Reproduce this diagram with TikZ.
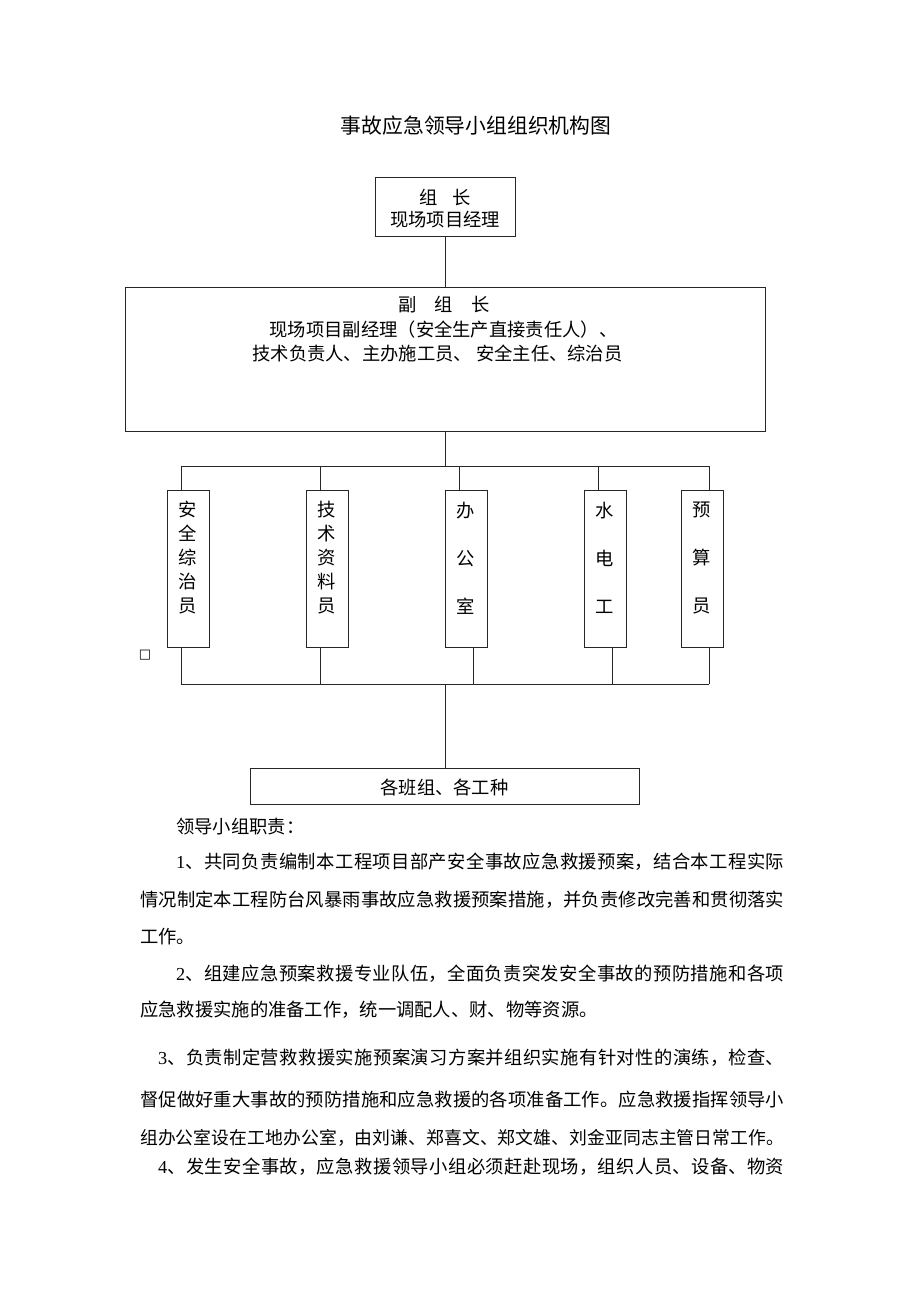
\documentclass[tikz,border=0pt]{standalone}
\usepackage{fontspec}
\setmainfont{Liberation Serif}
\newfontfamily\cjk{Noto Sans CJK SC}
\newfontfamily\symfont{DejaVu Sans}
\newcommand\jl[2]{\parbox{#1}{\XeTeXlinebreaklocale "zh"\XeTeXlinebreakskip=0pt plus 1fil minus 1pt\parfillskip=0pt\noindent #2}}
\begin{document}
\begin{tikzpicture}[x=1pt,y=-1pt,
  box/.style={draw=black!85, line width=1pt, inner sep=0pt},
  conn/.style={draw=black!85, line width=0.8pt},
  txt/.style={font=\cjk\fontsize{18.3}{23.5}\selectfont, inner sep=0pt},
  vtxt/.style={font=\cjk\fontsize{18.3}{24}\selectfont, inner sep=0pt, align=center},
  vtxtw/.style={font=\cjk\fontsize{18.3}{48}\selectfont, inner sep=0pt, align=center},
  para/.style={font=\cjk\fontsize{18.3}{18.3}\selectfont, inner sep=0pt, anchor=west}]
\useasboundingbox[fill=white] (0,0) rectangle (920,1302);

% title
\node[font=\cjk\fontsize{20.8}{20.8}\selectfont, inner sep=0pt] (title) at (476,126) {事故应急领导小组组织机构图};

% boxes
\node[box, minimum width=140pt, minimum height=59pt] (zz) at (445,206.5) {};
\node[txt] (zzt1) at (445,197) {组\hspace{15pt}长};
\node[txt] (zzt2) at (445,220) {现场项目经理};

\node[box, minimum width=640pt, minimum height=144pt] (fz) at (445,359) {};
\node[txt] (fzt1) at (444,305) {副　组　长};
\node[txt] (fzt2) at (443.5,330) {现场项目副经理（安全生产直接责任人）、};
\node[txt] (fzt3) at (437.5,353) {技术负责人、主办施工员、 安全主任、综治员};

\node[box, minimum width=42pt, minimum height=157pt] (b1) at (188,568.5) {};
\node[box, minimum width=42pt, minimum height=157pt] (b2) at (327,568.5) {};
\node[box, minimum width=42pt, minimum height=157pt] (b3) at (466,568.5) {};
\node[box, minimum width=42pt, minimum height=157pt] (b4) at (605,568.5) {};
\node[box, minimum width=42pt, minimum height=157pt] (b5) at (702,568.5) {};
\node[vtxt] (b1t) at (188,558) {安\\全\\综\\治\\员};
\node[vtxt] (b2t) at (327,558) {技\\术\\资\\料\\员};
\node[vtxtw] (b3t) at (466,558) {办\\公\\室};
\node[vtxtw] (b4t) at (605,558) {水\\电\\工};
\node[vtxtw] (b5t) at (702,558) {预\\算\\员};

\node[box, minimum width=389pt, minimum height=36pt] (bz) at (444.5,786) {};
\node[txt] (bzt) at (444.5,787) {各班组、各工种};

% small square glyph
\node[font=\symfont\fontsize{13}{13}\selectfont, inner sep=0pt] (sq) at (145,655) {□};

% connectors
\coordinate (tc) at (445,466);
\coordinate (tl) at (181,466);
\coordinate (tr) at (709,466);
\coordinate (bc) at (445,684);
\coordinate (bl) at (181,684);
\coordinate (br) at (709,684);
\draw[conn] (zz.south) -- (fz.north);
\draw[conn] (fz.south) -- (tc);
\draw[conn] (tl) -- (tr);
\draw[conn] (bl) -- (br);
\draw[conn] (bc) -- (bc |- bz.north);
\coordinate (u1) at (181,466); \coordinate (u2) at (320,466); \coordinate (u3) at (459,466);
\coordinate (u4) at (598,466); \coordinate (u5) at (709,466);
\coordinate (d1) at (181,684); \coordinate (d2) at (320,684); \coordinate (d3) at (473,684);
\coordinate (d4) at (612,684); \coordinate (d5) at (709,684);
\draw[conn] (u1) -- (u1 |- b1.north);
\draw[conn] (u2) -- (u2 |- b2.north);
\draw[conn] (u3) -- (u3 |- b3.north);
\draw[conn] (u4) -- (u4 |- b4.north);
\draw[conn] (u5) -- (u5 |- b5.north);
\draw[conn] (d1) -- (d1 |- b1.south);
\draw[conn] (d2) -- (d2 |- b2.south);
\draw[conn] (d3) -- (d3 |- b3.south);
\draw[conn] (d4) -- (d4 |- b4.south);
\draw[conn] (d5) -- (d5 |- b5.south);

% text body
\node[para] (l0) at (176,827) {领导小组职责：};
\node[para] (p1a) at (176,862) {\jl{608pt}{{\rmfamily 1}、共同负责编制本工程项目部产安全事故应急救援预案，结合本工程实际}};
\node[para] (p1b) at (140,900) {\jl{644pt}{情况制定本工程防台风暴雨事故应急救援预案措施，并负责修改完善和贯彻落实}};
\node[para] (p1c) at (140,937) {工作。};
\node[para] (p2a) at (176,974) {\jl{608pt}{{\rmfamily 2}、组建应急预案救援专业队伍，全面负责突发安全事故的预防措施和各项}};
\node[para] (p2b) at (140,1010) {应急救援实施的准备工作，统一调配人、财、物等资源。};
\node[para] (p3a) at (158,1058) {\jl{626pt}{{\rmfamily 3}、负责制定营救救援实施预案演习方案并组织实施有针对性的演练，检查、}};
\node[para] (p3b) at (140,1100) {\jl{644pt}{督促做好重大事故的预防措施和应急救援的各项准备工作。应急救援指挥领导小}};
\node[para, font=\cjk\fontsize{17.8}{17.8}\selectfont] (p3c) at (140,1138) {\jl{644pt}{组办公室设在工地办公室，由刘谦、郑喜文、郑文雄、刘金亚同志主管日常工作。}};
\node[para] (p4a) at (158,1167) {\jl{626pt}{{\rmfamily 4}、发生安全事故，应急救援领导小组必须赶赴现场，组织人员、设备、物资}};
\end{tikzpicture}
\end{document}
